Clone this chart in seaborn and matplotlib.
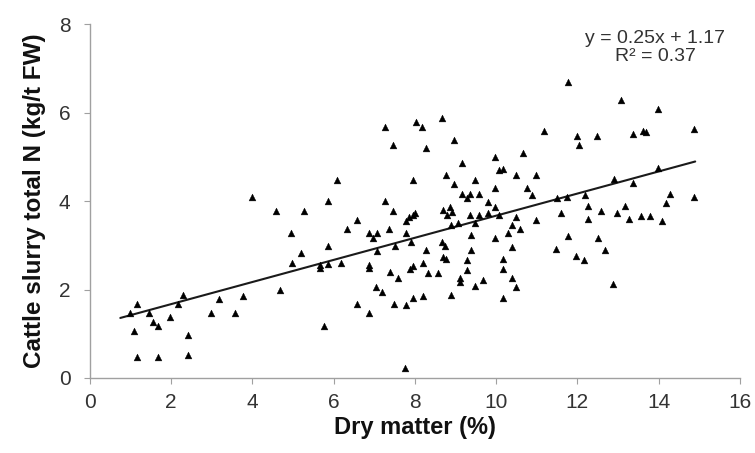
import matplotlib
matplotlib.use("Agg")
import matplotlib.pyplot as plt
import seaborn as sns
import pandas as pd

# Dry matter (%) and total N (kg/t FW)
dry_matter = [
    1.00, 1.17, 1.46, 1.09, 1.56, 1.67, 1.97, 2.30, 2.17, 2.41, 1.15, 1.67, 2.41,
    3.18, 3.76, 2.97, 3.57,
    7.27, 8.04, 7.47, 6.08, 7.96, 3.98, 5.86, 7.27,
    11.78, 8.17, 8.68, 11.18, 11.99, 12.04, 8.97, 8.28, 9.17, 9.98, 10.67, 8.77,
    9.48, 8.97, 10.08, 10.16, 10.48, 10.98, 9.98, 9.15, 9.36, 9.58, 9.29, 10.77,
    10.88, 11.49, 11.74,
    13.08, 13.98, 12.48, 13.36, 13.61, 13.69, 14.88, 12.89, 13.36, 13.98, 12.19,
    14.29, 14.88,
    4.58, 5.27, 7.47, 7.78, 7.85, 8.00, 6.58, 4.95, 6.32, 6.88, 7.08, 6.98, 7.37,
    7.77, 7.91, 5.87, 7.50, 7.08, 5.19, 4.98, 5.67, 5.67, 5.87, 6.18, 6.86, 6.86,
    7.39, 7.58, 7.88, 4.68, 7.04, 7.18, 6.57, 7.49, 7.78, 6.87, 5.76, 7.76,
    9.79, 9.98, 7.96, 8.70, 8.87, 8.78, 8.91, 9.36, 9.59, 9.79, 10.06, 8.88, 9.07,
    9.48, 10.49, 10.39, 10.59, 10.99, 11.59, 9.38, 9.98, 10.28, 11.78, 8.66, 8.74,
    8.28, 9.38, 10.39, 11.47, 11.96, 8.70, 8.77, 9.29, 10.18, 7.96, 8.19, 8.33,
    8.58, 9.29, 10.18, 9.10, 9.10, 9.67, 10.39, 9.48, 10.49, 7.96, 8.19, 8.88,
    10.18,
    12.27, 12.59, 12.97, 13.18, 13.28, 13.57, 13.78, 14.19, 14.08, 12.27, 12.50,
    12.68, 12.17, 12.87,
]
total_n = [
    1.48, 1.67, 1.46, 1.07, 1.27, 1.18, 1.37, 1.88, 1.67, 0.97, 0.47, 0.47, 0.52,
    1.78, 1.86, 1.46, 1.46,
    5.68, 5.79, 5.27, 4.47, 4.47, 4.10, 4.00, 4.00,
    6.70, 5.68, 5.88, 5.59, 5.48, 5.26, 5.38, 5.19, 4.87, 4.99, 5.08, 4.59,
    4.47, 4.38, 4.70, 4.72, 4.59, 4.59, 4.29, 4.17, 4.17, 4.17, 4.06, 4.29,
    4.14, 4.06, 4.10,
    6.28, 6.09, 5.48, 5.51, 5.58, 5.57, 5.63, 4.49, 4.40, 4.74, 4.14,
    4.16, 4.10,
    3.77, 3.78, 3.78, 3.55, 3.65, 3.72, 3.58, 3.27, 3.37, 3.27, 3.28, 3.17, 3.37,
    3.27, 3.08, 2.98, 2.98, 2.88, 2.82, 2.59, 2.49, 2.56, 2.58, 2.59, 2.55, 2.48,
    2.39, 2.25, 2.46, 1.99, 2.06, 1.95, 1.67, 1.67, 1.65, 1.48, 1.18, 0.22,
    3.99, 3.87, 3.68, 3.80, 3.87, 3.68, 3.76, 3.68, 3.68, 3.72, 3.68, 3.46, 3.50,
    3.50, 3.63, 3.46, 3.37, 3.57, 3.72, 3.23, 3.17, 3.27, 3.20, 3.08, 2.98,
    2.89, 2.89, 2.97, 2.91, 2.76, 2.74, 2.70, 2.67, 2.69, 2.54, 2.59, 2.38,
    2.38, 2.44, 2.46, 2.27, 2.18, 2.21, 2.27, 2.07, 2.05, 1.80, 1.85, 1.88,
    1.80,
    3.89, 3.77, 3.74, 3.89, 3.59, 3.67, 3.67, 3.96, 3.55, 3.59, 3.17,
    2.89, 2.67, 2.12,
]

# Trendline as printed on the chart
slope = 0.25
intercept = 1.17
r_squared = 0.37
trend_x = [0.75, 14.9]
trend_y = [slope * v + intercept for v in trend_x]

df = pd.DataFrame({"dm": dry_matter, "n": total_n})
trend = pd.DataFrame({"x": trend_x, "y": trend_y})

sns.set_theme(style="white")
plt.rcParams["font.family"] = ["Liberation Sans", "DejaVu Sans"]

fig = plt.figure(figsize=(7.55, 4.53), dpi=100)
ax = fig.add_axes([0.119, 0.1656, 0.861, 0.781])

sns.scatterplot(data=df, x="dm", y="n", marker="^", color="black", s=24,
                edgecolor="black", linewidth=0.3, ax=ax, zorder=3)
sns.lineplot(data=trend, x="x", y="y", color="#1a1a1a", linewidth=1.5, ax=ax,
             zorder=2)

ax.set_xlim(0, 16)
ax.set_ylim(0, 8)
ax.set_xticks(range(0, 17, 2))
ax.set_yticks(range(0, 9, 2))

ax.set_xlabel("Dry matter (%)", fontsize=17, fontweight="bold", color="#111111",
              labelpad=3)
ax.set_ylabel("Cattle slurry total N (kg/t FW)", fontsize=17.5, fontweight="bold",
              color="#111111", labelpad=9)

ax.tick_params(axis="both", labelsize=15, colors="#333333", length=4, width=0.8,
               direction="out", bottom=True, left=True)
ax.tick_params(axis="x", pad=7)
ax.tick_params(axis="y", pad=10)
for side in ["top", "right"]:
    ax.spines[side].set_visible(False)
for side in ["left", "bottom"]:
    ax.spines[side].set_color("#a0a0a0")
    ax.spines[side].set_linewidth(1.0)
ax.tick_params(axis="both", color="#a0a0a0")

ax.text(13.92, 7.47, f"y = {slope}x + {intercept}\nR² = {r_squared}",
        ha="center", va="center", multialignment="center", fontsize=14,
        color="#333333", linespacing=1.05)

fig.savefig("out.png", dpi=100)
